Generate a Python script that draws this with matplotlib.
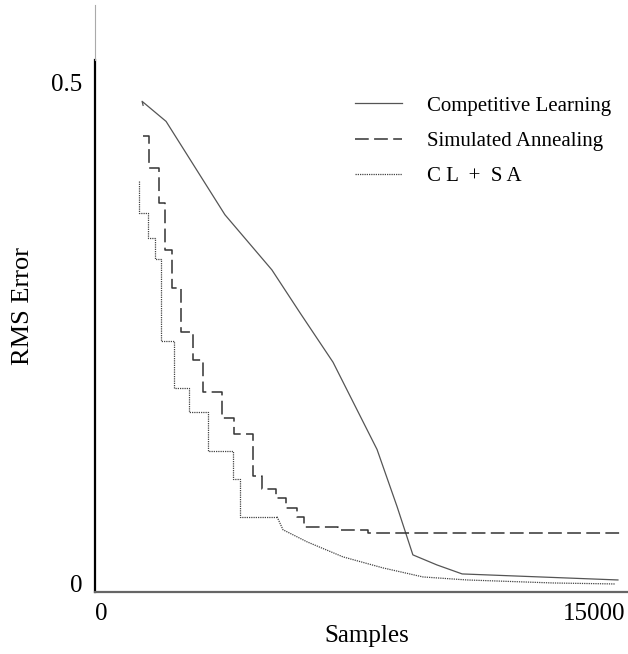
import matplotlib
matplotlib.use("Agg")
import matplotlib.pyplot as plt

plt.rcParams["font.family"] = ["Liberation Serif", "DejaVu Serif"]

# ---------- data ----------
cl_x = [1280, 1250, 1980, 3770, 5200, 6060, 7060, 8400, 9010, 9490, 10220, 10990, 15730]
cl_y = [0.477, 0.481, 0.461, 0.368, 0.313, 0.270, 0.221, 0.134, 0.077, 0.029, 0.019, 0.010, 0.004]

sa_x = [1280, 1460, 1770, 1950, 2160, 2430, 2800, 3100, 3680, 4050, 4630, 4900,
        5330, 5630, 5960, 6180, 7210, 8130, 15790]
sa_y = [0.446, 0.415, 0.380, 0.333, 0.295, 0.251, 0.223, 0.191, 0.165, 0.149, 0.108, 0.095,
        0.086, 0.076, 0.067, 0.057, 0.054, 0.051, 0.051]

# CL + SA: stepped start, then smooth tail
clsa_step_x = [1156, 1156, 1430, 1643, 1826, 2221, 2678, 3256, 4017, 4230, 5356]
clsa_step_y = [0.402, 0.370, 0.345, 0.324, 0.242, 0.195, 0.171, 0.133, 0.105, 0.067, 0.067]
clsa_tail_x = [5356, 5538, 6269, 7364, 8581, 9798, 11137, 13754, 15641]
clsa_tail_y = [0.067, 0.054, 0.042, 0.027, 0.016, 0.007, 0.004, 0.001, 0.000]

labels = ["Competitive Learning", "Simulated Annealing", "C L  +  S A"]
x_ticks = [0, 15000]
x_ticklabels = ["0", "15000"]
y_ticks = [0, 0.5]
y_ticklabels = ["0", "0.5"]

W, H = 628, 654
fig = plt.figure(figsize=(W / 100, H / 100), dpi=100)
ax = fig.add_axes([95 / W, 1 - 592 / H, 1 - 95 / W, (592 - 5) / H])

DOT = (0, (1, 0.8))
h1, = ax.plot(cl_x, cl_y, color="#555555", lw=0.9)
h2, = ax.step(sa_x, sa_y, where="post", color="#333333", lw=1.1, linestyle=(0, (9, 3.5)))
h3, = ax.step(clsa_step_x, clsa_step_y, where="post", color="#444444", lw=0.9, linestyle=DOT)
ax.plot(clsa_tail_x, clsa_tail_y, color="#444444", lw=0.9, linestyle=DOT)

ax.set_xlim(-183, 16036)
ax.set_ylim(-0.008, 0.577)

ax.set_xticks(x_ticks)
ax.set_xticklabels(x_ticklabels)
ax.set_yticks(y_ticks)
ax.set_yticklabels(y_ticklabels)
ax.tick_params(axis="both", length=0, labelsize=18, colors="black")
ax.tick_params(axis="x", pad=8)
ax.tick_params(axis="y", pad=9)

for s in ["top", "right", "left"]:
    ax.spines[s].set_visible(False)
ax.spines["bottom"].set_color("#666666")
ax.spines["bottom"].set_linewidth(1.6)
# left axis: black for the plot area, thin grey stub above
ax.axvline(-183, ymin=0, ymax=(592 - 60) / 587, color="black", lw=1.6, clip_on=False)
ax.axvline(-183, ymin=(592 - 60) / 587, ymax=1, color="#aaaaaa", lw=0.8, clip_on=False)

ax.legend([h1, h2, h3], labels, loc="upper left",
          bbox_to_anchor=(355 / W, 1 - 96 / H), bbox_transform=fig.transFigure,
          frameon=False, fontsize=15, handlelength=2.26, handletextpad=1.2,
          labelspacing=0.76, borderpad=0, borderaxespad=0)

fig.text(23 / W, 1 - 306 / H, "RMS Error", rotation=90, ha="center", va="center", fontsize=19)
fig.text(367 / W, 1 - 636 / H, "Samples", ha="center", va="center", fontsize=18)

fig.savefig("out.png", dpi=100, facecolor="white")
